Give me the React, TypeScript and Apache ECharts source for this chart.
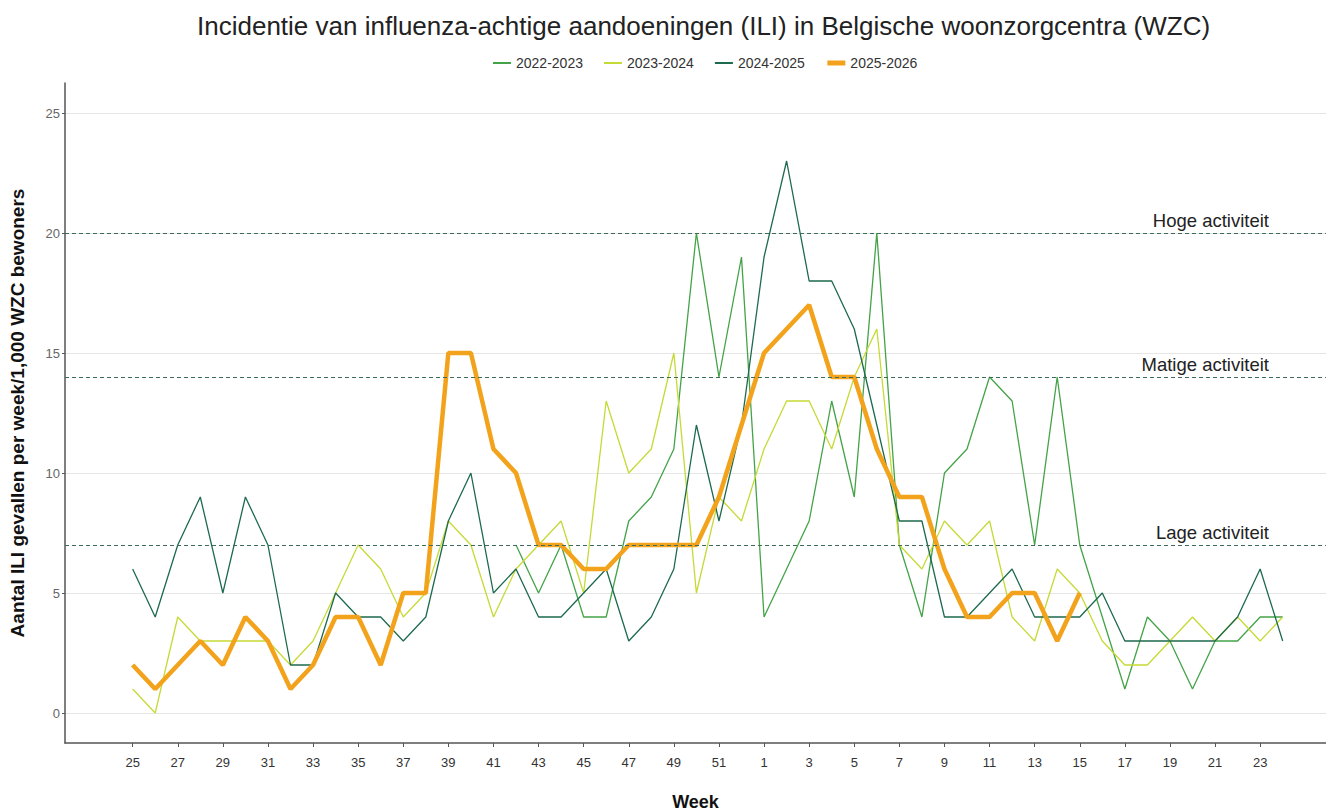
import React, { useEffect, useRef } from "react";
import * as echarts from "echarts";

const weeks: number[] = [
  25, 26, 27, 28, 29, 30, 31, 32, 33, 34, 35, 36, 37, 38, 39, 40, 41, 42, 43, 44, 45, 46, 47, 48, 49, 50, 51, 52,
  1, 2, 3, 4, 5, 6, 7, 8, 9, 10, 11, 12, 13, 14, 15, 16, 17, 18, 19, 20, 21, 22, 23, 24,
];

const seasons: string[] = ["2022-2023", "2023-2024", "2024-2025", "2025-2026"];

// 2022-2023 (starts at week 42)
const s2022: (number | null)[] = [
  null, null, null, null, null, null, null, null, null, null, null, null, null, null, null, null, null,
  7, 5, 7, 4, 4, 8, 9, 11, 20, 14, 19,
  4, 6, 8, 13, 9, 20, 7, 4, 10, 11, 14, 13, 7, 14, 7, 4, 1, 4, 3, 1, 3, 3, 4, 4,
];

const s2023: (number | null)[] = [
  1, 0, 4, 3, 3, 3, 3, 2, 3, 5, 7, 6, 4, 5, 8, 7, 4, 6, 7, 8, 5, 13, 10, 11, 15, 5, 9, 8,
  11, 13, 13, 11, 14, 16, 7, 6, 8, 7, 8, 4, 3, 6, 5, 3, 2, 2, 3, 4, 3, 4, 3, 4,
];

const s2024: (number | null)[] = [
  6, 4, 7, 9, 5, 9, 7, 2, 2, 5, 4, 4, 3, 4, 8, 10, 5, 6, 4, 4, 5, 6, 3, 4, 6, 12, 8, 12,
  19, 23, 18, 18, 16, 12, 8, 8, 4, 4, 5, 6, 4, 4, 4, 5, 3, 3, 3, 3, 3, 4, 6, 3,
];

const s2025: (number | null)[] = [
  2, 1, 2, 3, 2, 4, 3, 1, 2, 4, 4, 2, 5, 5, 15, 15, 11, 10, 7, 7, 6, 6, 7, 7, 7, 7, 9, 12,
  15, 16, 17, 14, 14, 11, 9, 9, 6, 4, 4, 5, 5, 3, 5,
];

const thresholdValues: number[] = [20, 14, 7];
const thresholdLabels: string[] = ["Hoge activiteit", "Matige activiteit", "Lage activiteit"];

const yTicks: number[] = [0, 5, 10, 15, 20, 25];
const xTickIdx: number[] = weeks.map((_, i) => i).filter((i) => i % 2 === 0 && i <= 50);

const colors: string[] = ["#43a347", "#c6da35", "#1d6a4d", "#f3a31b"];
const FONT = "Liberation Sans, Arial, sans-serif";

const toPairs = (arr: (number | null)[]) =>
  arr.map((v, i) => [i, v] as [number, number | null]).filter((p) => p[1] !== null);

export default function App() {
  const ref = useRef<HTMLDivElement>(null);

  useEffect(() => {
    document.body.style.margin = "0";
    if (!ref.current) return;
    const chart = echarts.init(ref.current, null, { renderer: "svg" });
    const all = [s2022, s2023, s2024, s2025];

    const series: any[] = all.map((arr, k) => ({
      name: seasons[k],
      type: "line",
      data: toPairs(arr),
      symbol: "none",
      z: k === 3 ? 4 : 3,
      lineStyle: { color: colors[k], width: k === 3 ? 4.5 : 1.3 },
      itemStyle: { color: colors[k] },
    }));

    series.push({
      name: "thresholds",
      type: "line",
      data: [],
      symbol: "none",
      markLine: {
        silent: true,
        symbol: "none",
        animation: false,
        lineStyle: { color: "#3f6b5b", type: [4, 3], width: 1 },
        label: {
          position: "insideEndTop",
          color: "#222",
          fontSize: 18.5,
          fontFamily: FONT,
          padding: [0, 54, 0, 0],
          distance: 3,
        },
        data: thresholdValues.map((v, i) => ({
          yAxis: v,
          label: { formatter: thresholdLabels[i] },
        })),
      },
    });

    chart.setOption({
      animation: false,
      textStyle: { fontFamily: FONT },
      title: {
        text: "Incidentie van influenza-achtige aandoeningen (ILI) in Belgische woonzorgcentra (WZC)",
        left: 192,
        top: 8,
        textStyle: { fontSize: 26, fontWeight: "normal", color: "#222", fontFamily: FONT },
      },
      legend: {
        data: seasons.map((s, k) => ({ name: s, lineStyle: { width: k === 3 ? 5 : 2 } })),
        top: 51,
        left: 487,
        itemWidth: 18,
        itemHeight: 12,
        itemGap: 20,
        itemStyle: { opacity: 0 },
        textStyle: { fontSize: 14, color: "#333" },
      },
      grid: { left: 65, right: 0, top: 83, bottom: 68, containLabel: false, outerBoundsMode: "none" },
      xAxis: {
        type: "value",
        min: -3,
        max: 52.92,
        name: "Week",
        nameLocation: "middle",
        nameGap: 50,
        nameTextStyle: { fontSize: 18, fontWeight: "bold", color: "#111" },
        axisLine: { show: true, onZero: false, lineStyle: { color: "#555", width: 1.5 } },
        axisTick: { show: true, length: 4, customValues: xTickIdx, lineStyle: { color: "#555" } },
        axisLabel: {
          customValues: xTickIdx,
          formatter: (v: number) => String(weeks[Math.round(v)]),
          fontSize: 13,
          color: "#333",
          margin: 13,
        },
        splitLine: { show: false },
      },
      yAxis: {
        type: "value",
        min: -1.25,
        max: 26.25,
        name: "Aantal ILI gevallen per week/1,000 WZC bewoners",
        nameLocation: "middle",
        nameGap: 38,
        nameTextStyle: { fontSize: 19, fontWeight: "bold", color: "#111" },
        axisLine: { show: true, onZero: false, lineStyle: { color: "#555", width: 1.5 } },
        axisTick: { show: true, length: 3, customValues: yTicks, lineStyle: { color: "#555" } },
        axisLabel: { customValues: yTicks, fontSize: 13, color: "#666", margin: 5 },
        splitLine: { show: true, lineStyle: { color: "#e6e6e6", width: 1 } },
      },
      series,
    });

    return () => chart.dispose();
  }, []);

  return <div ref={ref} style={{ width: 1326, height: 811 }} />;
}
